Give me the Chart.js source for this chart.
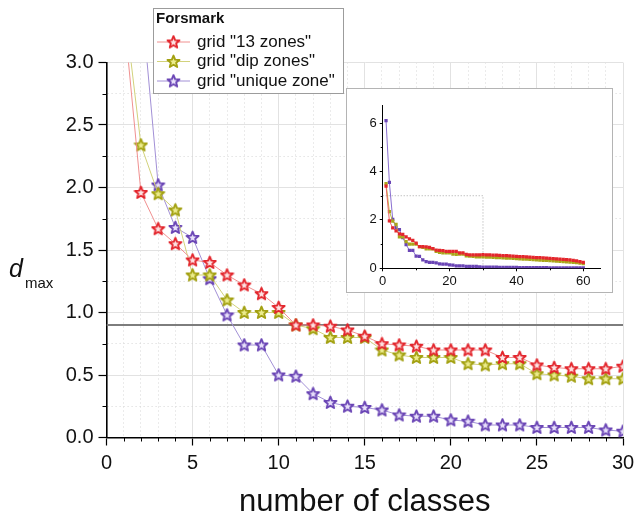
<!DOCTYPE html>
<html>
<head>
<meta charset="utf-8">
<title>Forsmark d max</title>
<script src="https://cdn.jsdelivr.net/npm/chart.js@4.4.0/dist/chart.umd.min.js"></script>
<style>
  body { margin: 0; background: #fff; }
  #wrap { position: relative; width: 635px; height: 522px; }
  #wrap canvas { display: block; }
  #inset-box {
    position: absolute; left: 346px; top: 88px;
    width: 265px; height: 203px;
    border: 1px solid #b4b4b4; background: #fff;
  }
</style>
</head>
<body>
<div id="wrap">
  <canvas id="main" width="635" height="522"></canvas>
  <div id="inset-box"><canvas id="inset" width="265" height="203"></canvas></div>
</div>
<script>
// number of classes
const classes = [
  1, 2, 3, 4, 5, 6, 7, 8, 9, 10,
  11, 12, 13, 14, 15, 16, 17, 18, 19, 20,
  21, 22, 23, 24, 25, 26, 27, 28, 29, 30,
  31, 32, 33, 34, 35, 36, 37, 38, 39, 40,
  41, 42, 43, 44, 45, 46, 47, 48, 49, 50,
  51, 52, 53, 54, 55, 56, 57, 58, 59, 60
];

// d max per grid
const zones13 = [
  3.40, 1.96, 1.67, 1.55, 1.42, 1.40, 1.30, 1.22, 1.15, 1.04,
  0.90, 0.90, 0.89, 0.86, 0.81, 0.75, 0.74, 0.73, 0.70, 0.70,
  0.70, 0.70, 0.64, 0.64, 0.58, 0.56, 0.55, 0.55, 0.55, 0.57,
  0.56, 0.55, 0.54, 0.54, 0.53, 0.52, 0.52, 0.51, 0.50, 0.49,
  0.48, 0.48, 0.47, 0.46, 0.45, 0.44, 0.44, 0.43, 0.42, 0.41,
  0.40, 0.39, 0.38, 0.37, 0.36, 0.35, 0.33, 0.31, 0.28, 0.25
];
const dipZones = [
  3.50, 2.34, 1.95, 1.82, 1.30, 1.30, 1.10, 1.00, 1.00, 1.00,
  0.90, 0.87, 0.80, 0.80, 0.80, 0.70, 0.66, 0.64, 0.64, 0.64,
  0.59, 0.58, 0.59, 0.59, 0.51, 0.50, 0.49, 0.47, 0.47, 0.47,
  0.46, 0.46, 0.45, 0.44, 0.44, 0.43, 0.42, 0.42, 0.41, 0.40,
  0.39, 0.38, 0.38, 0.37, 0.36, 0.35, 0.34, 0.33, 0.33, 0.32,
  0.31, 0.30, 0.29, 0.28, 0.27, 0.26, 0.24, 0.23, 0.21, 0.19
];
const uniqueZone = [
  6.10, 3.55, 2.02, 1.68, 1.60, 1.27, 0.98, 0.74, 0.74, 0.50,
  0.49, 0.35, 0.28, 0.25, 0.24, 0.22, 0.18, 0.17, 0.17, 0.14,
  0.13, 0.10, 0.10, 0.10, 0.08, 0.08, 0.08, 0.08, 0.06, 0.05,
  0.05, 0.05, 0.05, 0.05, 0.04, 0.04, 0.04, 0.04, 0.04, 0.04,
  0.03, 0.03, 0.03, 0.03, 0.03, 0.03, 0.03, 0.03, 0.03, 0.02,
  0.02, 0.02, 0.02, 0.02, 0.02, 0.02, 0.02, 0.02, 0.02, 0.02
];

const seriesNames = ['grid "13 zones"', 'grid "dip zones"', 'grid "unique zone"'];
const legendTitle = 'Forsmark';

// threshold line
const refX = [0, 30];
const refY = [0.9, 0.9];

// region of the inset that the main plot enlarges
const boxX = [0, 30, 30];
const boxY = [3, 3, 0];

const FONT = '"Liberation Sans", Arial, sans-serif';
Chart.defaults.font.family = FONT;
Chart.defaults.color = '#111';

const xy = (xs, ys) => xs.map((x, i) => ({ x: x, y: ys[i] }));
const onStep = (v, step) => Math.abs(v / step - Math.round(v / step)) < 1e-6;

// open five-point star used as marker
function starIcon(stroke, fill) {
  const c = document.createElement('canvas');
  c.width = 15; c.height = 15;
  const g = c.getContext('2d');
  g.beginPath();
  for (let i = 0; i < 10; i++) {
    const r = i % 2 ? 2.8 : 6.3;
    const a = -Math.PI / 2 + i * Math.PI / 5;
    const px = 7.5 + r * Math.cos(a), py = 7.9 + r * Math.sin(a);
    if (i) g.lineTo(px, py); else g.moveTo(px, py);
  }
  g.closePath();
  g.fillStyle = fill;
  g.fill();
  g.lineWidth = 1.9;
  g.lineJoin = 'round';
  g.strokeStyle = stroke;
  g.stroke();
  return c;
}

const looks = [
  { star: starIcon('#e3262d', '#fde3e3'), line: '#f09090', dot: '#e3262d', thin: '#ec6666' },
  { star: starIcon('#a3a112', '#ecec8c'), line: '#d2d27c', dot: '#aaa61a', thin: '#bcb845' },
  { star: starIcon('#6a45b5', '#e8e0fb'), line: '#a290d6', dot: '#6a45b5', thin: '#8a6fd0' }
];
const values = [zones13, dipZones, uniqueZone];

// short ticks between the labelled ones
const minorTicks = {
  id: 'minorTicks',
  afterDraw(chart, args, o) {
    const ctx = chart.ctx;
    const xs = chart.scales.x, ys = chart.scales.y;
    ctx.save();
    ctx.strokeStyle = '#000';
    ctx.lineWidth = 1;
    ctx.beginPath();
    xs.ticks.forEach(t => {
      if (onStep(t.value, o.xMajor)) return;
      const px = Math.round(xs.getPixelForValue(t.value)) + 0.5;
      ctx.moveTo(px, xs.top);
      ctx.lineTo(px, xs.top + o.length);
    });
    ys.ticks.forEach(t => {
      if (onStep(t.value, o.yMajor)) return;
      const py = Math.round(ys.getPixelForValue(t.value)) + 0.5;
      ctx.moveTo(ys.right, py);
      ctx.lineTo(ys.right - o.length, py);
    });
    ctx.stroke();
    ctx.restore();
  }
};

// y title: italic d with "max" subscript
const dmaxTitle = {
  id: 'dmaxTitle',
  afterDraw(chart) {
    const ctx = chart.ctx;
    ctx.save();
    ctx.fillStyle = '#111';
    ctx.textBaseline = 'alphabetic';
    ctx.font = 'italic 25px ' + FONT;
    ctx.fillText('d', 9, 277);
    ctx.font = '15px ' + FONT;
    ctx.fillText('max', 25, 288);
    ctx.restore();
  }
};

const legendBox = {
  id: 'legendBox',
  afterDraw(chart, args, o) {
    const ctx = chart.ctx;
    ctx.save();
    ctx.fillStyle = '#fff';
    ctx.fillRect(o.left, o.top, o.width, o.height);
    ctx.strokeStyle = '#9c9c9c';
    ctx.lineWidth = 1;
    ctx.strokeRect(o.left + 0.5, o.top + 0.5, o.width, o.height);
    ctx.fillStyle = '#111';
    ctx.textBaseline = 'middle';
    ctx.font = 'bold 15px ' + FONT;
    ctx.fillText(legendTitle, o.left + 3, o.top + 11);
    ctx.font = '17px ' + FONT;
    chart.data.datasets.slice(0, 3).forEach((ds, i) => {
      const y = o.top + 34 + i * 19.5;
      ctx.strokeStyle = ds.borderColor;
      ctx.beginPath();
      ctx.moveTo(o.left + 4, y);
      ctx.lineTo(o.left + 37, y);
      ctx.stroke();
      const s = ds.pointStyle;
      ctx.drawImage(s, o.left + 20.5 - s.width / 2, y - s.height / 2);
      ctx.fillStyle = '#111';
      ctx.fillText(ds.label, o.left + 44, y);
    });
    ctx.restore();
  }
};

// main plot
const mainSets = values.map((v, i) => ({
  label: seriesNames[i],
  data: xy(classes, v),
  borderColor: looks[i].line,
  borderWidth: 1,
  pointStyle: looks[i].star,
  pointRadius: 5
}));
mainSets.push({
  label: 'threshold',
  data: xy(refX, refY),
  borderColor: '#7d7d7d',
  borderWidth: 2,
  pointRadius: 0
});

new Chart(document.getElementById('main'), {
  type: 'line',
  data: { datasets: mainSets },
  options: {
    responsive: false,
    animation: false,
    devicePixelRatio: 1,
    layout: { padding: { top: 62.5, right: 12, left: 0, bottom: 0 } },
    plugins: {
      legend: { display: false },
      tooltip: { enabled: false },
      minorTicks: { xMajor: 5, yMajor: 0.5, length: 4 },
      legendBox: { left: 153, top: 8, width: 190, height: 85 }
    },
    scales: {
      x: {
        type: 'linear', min: 0, max: 30,
        afterFit: s => { s.height = 84.5; s.paddingLeft = 0; s.paddingRight = 0; },
        ticks: {
          stepSize: 1, autoSkip: false, maxRotation: 0, padding: 6,
          font: { size: 20 },
          callback: v => onStep(v, 5) ? String(v) : ''
        },
        grid: {
          color: c => (c.tick && !onStep(c.tick.value, 5)) ? '#d6d6d6' : '#e2e2e2',
          lineWidth: 1,
          tickLength: 8,
          tickWidth: 1.2,
          tickColor: c => (c.tick && !onStep(c.tick.value, 5)) ? 'rgba(0,0,0,0)' : '#000'
        },
        border: {
          color: '#000', width: 1.6,
          dash: c => (c.tick && !onStep(c.tick.value, 5)) ? [1, 3] : []
        },
        title: {
          display: true, text: 'number of classes',
          font: { size: 31 }, padding: { top: 0, bottom: 1 }
        }
      },
      y: {
        min: 0, max: 3,
        afterFit: s => { s.width = 106.5; },
        ticks: {
          stepSize: 0.25, autoSkip: false, padding: 5,
          font: { size: 20 },
          callback: v => onStep(v, 0.5) ? v.toFixed(1) : ''
        },
        grid: {
          color: c => (c.tick && !onStep(c.tick.value, 0.5)) ? '#d6d6d6' : '#e2e2e2',
          lineWidth: 1,
          tickLength: 8,
          tickWidth: 1.2,
          tickColor: c => (c.tick && !onStep(c.tick.value, 0.5)) ? 'rgba(0,0,0,0)' : '#000'
        },
        border: {
          color: '#000', width: 1.6,
          dash: c => (c.tick && !onStep(c.tick.value, 0.5)) ? [1, 3] : []
        }
      }
    }
  },
  plugins: [minorTicks, dmaxTitle, legendBox]
});

// inset: all 60 classes
const insetSets = values.map((v, i) => ({
  label: seriesNames[i],
  data: xy(classes, v),
  borderColor: looks[i].thin,
  borderWidth: 1,
  pointStyle: 'rect',
  pointRadius: 2.3,
  pointBorderWidth: 0,
  pointBackgroundColor: looks[i].dot
}));
insetSets.push({
  label: 'zoom',
  data: xy(boxX, boxY),
  borderColor: '#a8a8a8',
  borderWidth: 1,
  borderDash: [1, 2],
  pointRadius: 0
});

new Chart(document.getElementById('inset'), {
  type: 'line',
  data: { datasets: insetSets },
  options: {
    responsive: false,
    animation: false,
    devicePixelRatio: 1,
    layout: { padding: { top: 16, right: 12, left: 0, bottom: 0 } },
    plugins: {
      legend: { display: false },
      tooltip: { enabled: false },
      minorTicks: { xMajor: 20, yMajor: 2, length: 2 }
    },
    scales: {
      x: {
        type: 'linear', min: 0, max: 65,
        afterFit: s => { s.height = 23.7; s.paddingLeft = 0; s.paddingRight = 0; },
        ticks: {
          stepSize: 10, autoSkip: false, maxRotation: 0, padding: 2,
          includeBounds: false, font: { size: 13 },
          callback: v => onStep(v, 20) ? String(v) : ''
        },
        grid: {
          drawOnChartArea: false, tickLength: 3,
          tickColor: c => (c.tick && !onStep(c.tick.value, 20)) ? 'rgba(0,0,0,0)' : '#000'
        },
        border: { color: '#000', width: 1 }
      },
      y: {
        min: 0, max: 6.75,
        afterFit: s => { s.width = 35.7; },
        ticks: {
          stepSize: 1, autoSkip: false, padding: 3,
          includeBounds: false, font: { size: 13 },
          callback: v => onStep(v, 2) ? String(v) : ''
        },
        grid: {
          drawOnChartArea: false, tickLength: 3,
          tickColor: c => (c.tick && !onStep(c.tick.value, 2)) ? 'rgba(0,0,0,0)' : '#000'
        },
        border: { color: '#000', width: 1 }
      }
    }
  },
  plugins: [minorTicks]
});
</script>
</body>
</html>
